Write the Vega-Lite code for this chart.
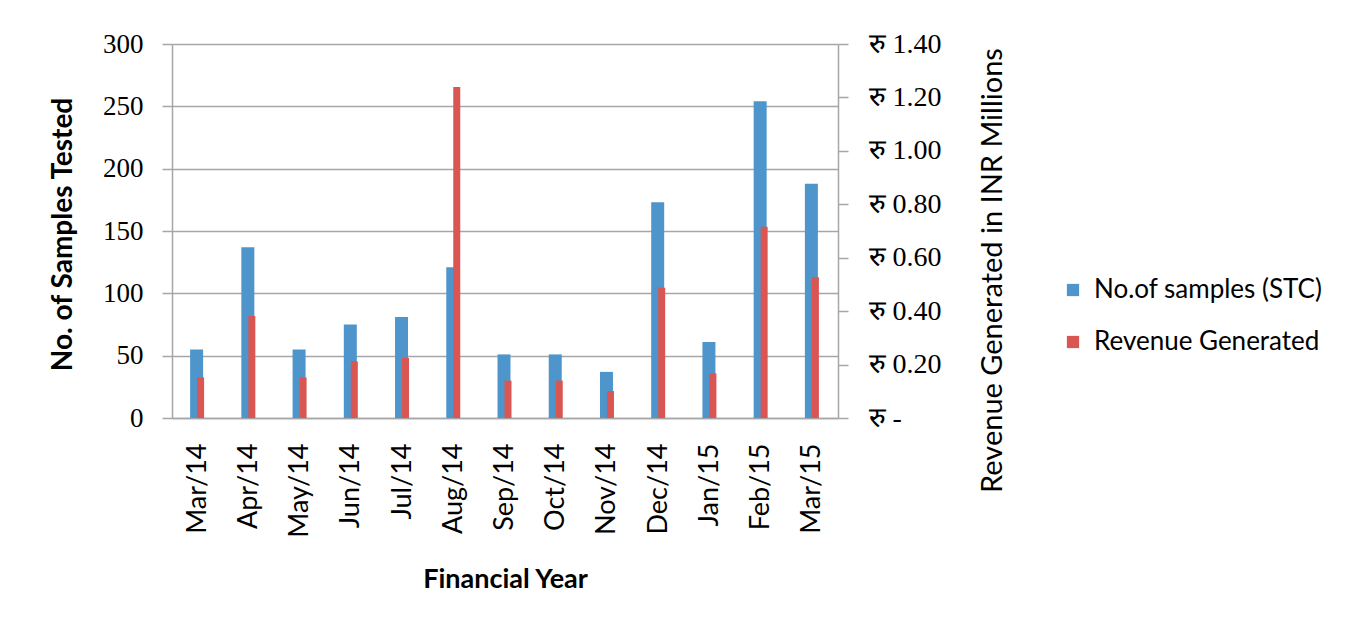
{
  "$schema": "https://vega.github.io/schema/vega-lite/v6.json",
  "width": 666,
  "height": 374,
  "autosize": {"type": "none"},
  "padding": {"left": 172, "top": 44, "right": 511, "bottom": 211},
  "background": "white",
  "config": {"view": {"stroke": null}, "font": "Lato"},
  "data": {
    "values": [
      {"month": "Mar/14", "samples": 55, "revenue": 0.152},
      {"month": "Apr/14", "samples": 137, "revenue": 0.382},
      {"month": "May/14", "samples": 55, "revenue": 0.152},
      {"month": "Jun/14", "samples": 75, "revenue": 0.212},
      {"month": "Jul/14", "samples": 81, "revenue": 0.225},
      {"month": "Aug/14", "samples": 121, "revenue": 1.239},
      {"month": "Sep/14", "samples": 51, "revenue": 0.14},
      {"month": "Oct/14", "samples": 51, "revenue": 0.14},
      {"month": "Nov/14", "samples": 37, "revenue": 0.101},
      {"month": "Dec/14", "samples": 173, "revenue": 0.488},
      {"month": "Jan/15", "samples": 61, "revenue": 0.167},
      {"month": "Feb/15", "samples": 254, "revenue": 0.716},
      {"month": "Mar/15", "samples": 188, "revenue": 0.527}
    ]
  },
  "encoding": {
    "x": {
      "field": "month",
      "type": "ordinal",
      "sort": null,
      "scale": {"paddingInner": 0, "paddingOuter": 0},
      "axis": {
        "title": "Financial Year",
        "titleFontSize": 27,
        "titleFontWeight": "bold",
        "titleColor": "black",
        "titleY": 161,
        "titleBaseline": "middle",
        "labelAngle": -90,
        "labelFontSize": 27,
        "labelColor": "black",
        "labelPadding": 25,
        "ticks": false,
        "domainColor": "#a6a6a6",
        "domainWidth": 1.5
      }
    }
  },
  "layer": [
    {
      "mark": {"type": "bar", "size": 13, "xOffset": -1},
      "encoding": {
        "y": {
          "field": "samples",
          "type": "quantitative",
          "scale": {"domain": [0, 300], "nice": false},
          "axis": {
            "title": "No. of Samples Tested",
            "titleFontSize": 28,
            "titleFontWeight": "bold",
            "titleColor": "black",
            "titleX": -109,
            "titleY": 190,
            "titleBaseline": "middle",
            "values": [0, 50, 100, 150, 200, 250, 300],
            "labelFont": "Liberation Serif",
            "labelFontSize": 27,
            "labelColor": "black",
            "labelPadding": 19,
            "tickSize": 10,
            "tickColor": "#a6a6a6",
            "tickWidth": 1.5,
            "domainColor": "#a6a6a6",
            "domainWidth": 1.5,
            "grid": true,
            "gridColor": "#a6a6a6",
            "gridWidth": 1.5
          }
        },
        "color": {
          "datum": "No.of samples (STC)",
          "type": "nominal",
          "scale": {
            "domain": ["No.of samples (STC)", "Revenue Generated"],
            "range": ["#4E95CB", "#D95652"]
          },
          "legend": {
            "orient": "none",
            "legendX": 888,
            "legendY": 233,
            "title": null,
            "symbolType": "square",
            "symbolSize": 150,
            "symbolStrokeWidth": 0,
            "labelFontSize": 26,
            "labelLimit": 0,
            "labelColor": "black",
            "labelOffset": 8,
            "rowPadding": 26
          }
        }
      }
    },
    {
      "mark": {"type": "bar", "size": 7, "xOffset": 3},
      "encoding": {
        "y": {
          "field": "revenue",
          "type": "quantitative",
          "scale": {"domain": [0, 1.4], "nice": false},
          "axis": {
            "orient": "right",
            "title": "Revenue Generated in  INR Millions",
            "titleFontSize": 29,
            "titleFontWeight": "normal",
            "titleColor": "black",
            "titleAngle": 270,
            "titleX": 154,
            "titleY": 226,
            "titleBaseline": "middle",
            "values": [0, 0.2, 0.4, 0.6, 0.8, 1.0, 1.2, 1.4],
            "labelExpr": "datum.value == 0 ? 'रु -' : 'रु ' + format(datum.value, '.2f')",
            "labelFont": "Liberation Serif",
            "labelFontSize": 28,
            "labelColor": "black",
            "labelPadding": 20,
            "tickSize": 10,
            "tickColor": "#a6a6a6",
            "tickWidth": 1.5,
            "domainColor": "#a6a6a6",
            "domainWidth": 1.5,
            "grid": false
          }
        },
        "color": {"datum": "Revenue Generated", "type": "nominal"}
      }
    }
  ],
  "resolve": {"scale": {"y": "independent"}}
}
